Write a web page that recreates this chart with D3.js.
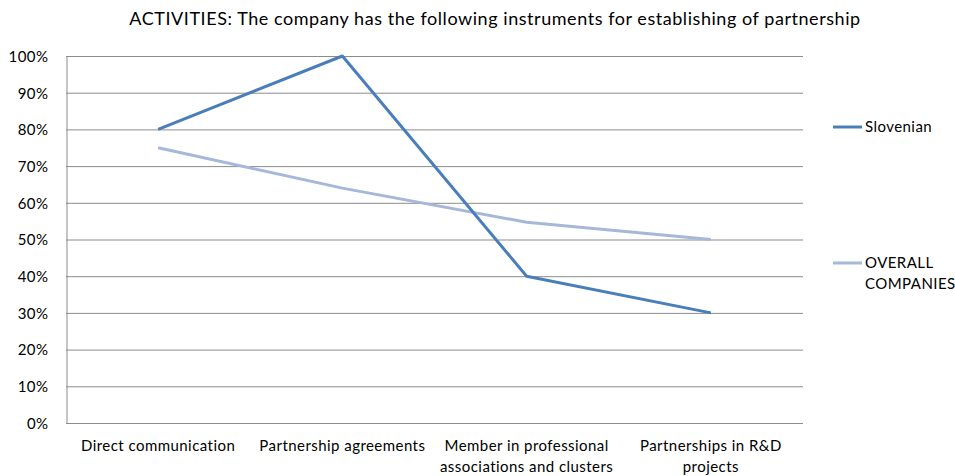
<!DOCTYPE html>
<html>
<head>
<meta charset="utf-8">
<script src="https://cdn.jsdelivr.net/npm/d3@7"></script>
<style>
  body { margin: 0; background: #fff; }
  svg { display: block; font-family: Lato, "Liberation Sans", Arial, sans-serif; }
</style>
</head>
<body>
<svg id="chart" width="955" height="476"></svg>
<script>
// Chart content
const title = "ACTIVITIES: The company has the following instruments for establishing of partnership";
const categories = [
  ["Direct communication"],
  ["Partnership agreements"],
  ["Member in professional", "associations and clusters"],
  ["Partnerships in R&D", "projects"]
];
const slovenian = [80, 100, 40, 30];
const overall = [75, 64, 54.7, 50];
const yTicks = [0, 10, 20, 30, 40, 50, 60, 70, 80, 90, 100];
const seriesNames = [["Slovenian"], ["OVERALL", "COMPANIES"]];

const svg = d3.select("#chart");
const m = { left: 66, right: 803, top: 56, bottom: 423 };
const labelFont = 15;
const labelSpacing = 0.45;

const x = d3.scaleBand().domain(d3.range(categories.length)).range([m.left, m.right]);
const y = d3.scaleLinear().domain([0, 100]).range([m.bottom, m.top]);

// Title
svg.append("text")
  .attr("x", 495).attr("y", 25)
  .attr("text-anchor", "middle")
  .attr("font-size", 18)
  .attr("letter-spacing", 0.55)
  .attr("fill", "#000")
  .text(title);

// Horizontal gridlines
svg.append("g")
  .selectAll("line").data(yTicks).join("line")
  .attr("x1", m.left).attr("x2", m.right)
  .attr("y1", d => y(d) + 0.5).attr("y2", d => y(d) + 0.5)
  .attr("stroke", "#8c8c8c").attr("stroke-width", 1);

// Y axis
const yAxis = d3.axisLeft(y).tickValues(yTicks).tickFormat(d => d + "%").tickSize(0).tickPadding(18);
const gy = svg.append("g").attr("transform", `translate(${m.left + 0.5},0.5)`).call(yAxis);
gy.select(".domain").attr("stroke", "#8c8c8c");
gy.selectAll("text").attr("font-size", labelFont).attr("fill", "#000")
  .attr("letter-spacing", labelSpacing)
  .attr("font-family", "Lato, Liberation Sans, Arial, sans-serif");

// X category labels
const xl = svg.append("g").selectAll("text").data(categories).join("text")
  .attr("text-anchor", "middle")
  .attr("font-size", labelFont)
  .attr("letter-spacing", labelSpacing)
  .attr("fill", "#000");
xl.each(function(lines, i) {
  const t = d3.select(this);
  lines.forEach((ln, j) => {
    t.append("tspan")
      .attr("x", x(i) + x.bandwidth() / 2)
      .attr("y", 451 + j * 21)
      .text(ln);
  });
});

// Series lines
const line = d3.line()
  .x((d, i) => x(i) + x.bandwidth() / 2)
  .y(d => y(d));

svg.append("path").datum(overall)
  .attr("d", line).attr("fill", "none")
  .attr("stroke", "#a5b8d9").attr("stroke-width", 3)
  .attr("stroke-linejoin", "round");

svg.append("path").datum(slovenian)
  .attr("d", line).attr("fill", "none")
  .attr("stroke", "#4a7ebb").attr("stroke-width", 3)
  .attr("stroke-linejoin", "round");

// Legend
const legendColors = ["#4a7ebb", "#a5b8d9"];
const legendY = [127, 263];
seriesNames.forEach((name, i) => {
  const g = svg.append("g");
  g.append("line")
    .attr("x1", 833).attr("x2", 862)
    .attr("y1", legendY[i]).attr("y2", legendY[i])
    .attr("stroke", legendColors[i]).attr("stroke-width", 3);
  name.forEach((ln, j) => {
    g.append("text")
      .attr("x", 865).attr("y", legendY[i] + 5 + j * 21)
      .attr("font-size", labelFont)
      .attr("letter-spacing", labelSpacing)
      .attr("fill", "#000")
      .text(ln);
  });
});
</script>
</body>
</html>
